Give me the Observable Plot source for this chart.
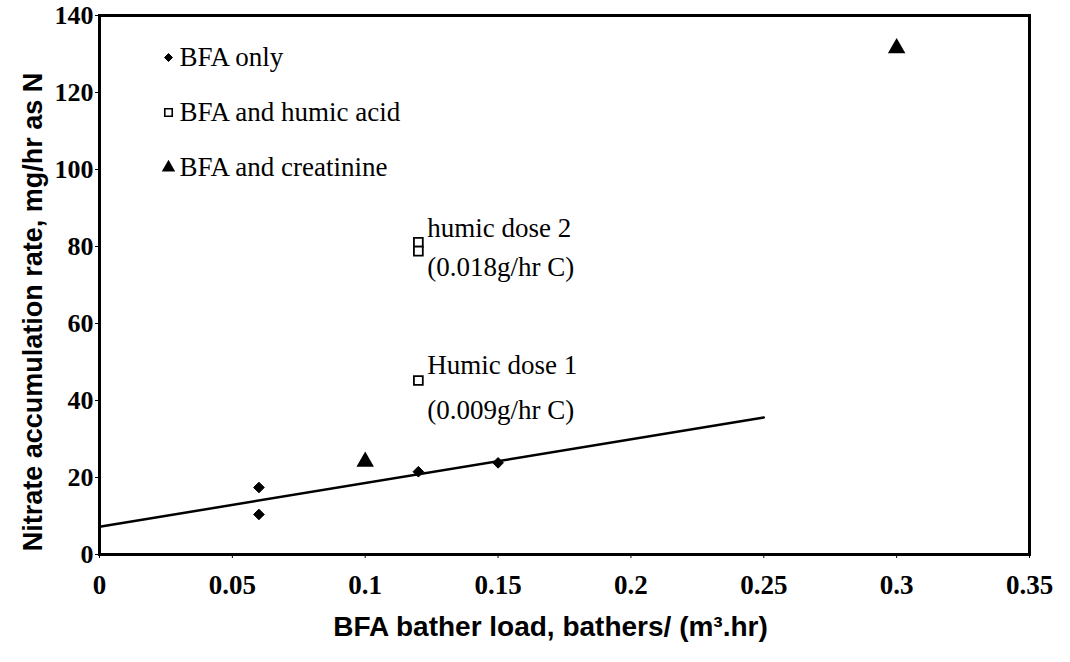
<!DOCTYPE html>
<html><head><meta charset="utf-8">
<script src="https://cdn.jsdelivr.net/npm/d3@7"></script>
<script src="https://cdn.jsdelivr.net/npm/@observablehq/plot@0.6"></script>
<style>
body{margin:0;background:#fff;}
#chart{position:relative;width:1070px;height:662px;}
</style>
</head><body><div id="chart"></div>
<script>
// Data
const bfaOnlyX = [0.06, 0.06, 0.12, 0.15];
const bfaOnlyY = [17.4, 10.4, 21.5, 23.8];
const humicX = [0.12, 0.12, 0.12];
const humicY = [81.1, 78.8, 45.2];
const creatX = [0.10, 0.30];
const creatY = [24.1, 131.5];
const trendX = [0, 0.25];
const trendY = [7.2, 35.6];
const xTicks = [0, 0.05, 0.1, 0.15, 0.2, 0.25, 0.3, 0.35];
const yTicks = [0, 20, 40, 60, 80, 100, 120, 140];
const legendLabels = ["BFA only", "BFA and humic acid", "BFA and creatinine"];
const annotX = [0.12, 0.12];
const annotY = [81.1, 45.2];
const annotLine1 = ["humic dose 2", "Humic dose 1"];
const annotLine2 = ["(0.018g/hr C)", "(0.009g/hr C)"];
const xTitle = "BFA bather load, bathers/ (m³.hr)";
const yTitle = "Nitrate accumulation rate, mg/hr as N";

const bfa = bfaOnlyX.map((x, i) => ({x, y: bfaOnlyY[i]}));
const humic = humicX.map((x, i) => ({x, y: humicY[i]}));
const creat = creatX.map((x, i) => ({x, y: creatY[i]}));
const trend = trendX.map((x, i) => ({x, y: trendY[i]}));

const serif = "'Liberation Serif', 'Times New Roman', serif";
const sans = "'Liberation Sans', Arial, sans-serif";

// annotation offsets (style)
const annotDy = [[-14, 25], [-15, 30]];
const annotMarks = annotX.flatMap((x, i) => [
  Plot.text([{x, y: annotY[i], t: annotLine1[i]}], {x: "x", y: "y", text: "t", dx: 9, dy: annotDy[i][0], textAnchor: "start", fontSize: 27, fontFamily: serif}),
  Plot.text([{x, y: annotY[i], t: annotLine2[i]}], {x: "x", y: "y", text: "t", dx: 9, dy: annotDy[i][1], textAnchor: "start", fontSize: 27, fontFamily: serif})
]);

// legend (inside the frame, top-left)
const legendSym = [
  {symbol: "diamond2", fill: "#000", stroke: "#000", r: 3.6, strokeWidth: 1},
  {symbol: "square", fill: "#fff", stroke: "#000", r: 4.2, strokeWidth: 1.6},
  {symbol: "triangle", fill: "#000", stroke: "none", r: 5}
];
const legendMarks = legendLabels.flatMap((lab, i) => [
  Plot.dot([lab], {frameAnchor: "top-left", dx: 69, dy: 42 + i * 55, ...legendSym[i]}),
  Plot.text([lab], {frameAnchor: "top-left", dx: 80, dy: 42 + i * 55, text: d => d, textAnchor: "start", lineAnchor: "middle", fontSize: 27, fontFamily: serif})
]);

const plot = Plot.plot({
  width: 1070, height: 662,
  marginLeft: 99, marginRight: 41, marginTop: 15, marginBottom: 108,
  style: {fontFamily: serif, fontSize: "26px", background: "#fff", color: "#000"},
  x: {domain: [0, 0.35]},
  y: {domain: [0, 140]},
  marks: [
    Plot.frame({stroke: "#000", strokeWidth: 3}),
    Plot.axisX({ticks: xTicks, tickSize: 4, tickPadding: 16, tickFormat: d => d === 0 ? "0" : String(+d.toFixed(2)),
      fontSize: 27, fontWeight: "bold", label: null}),
    Plot.axisY({ticks: yTicks, tickSize: 4, tickPadding: 2, fontSize: 26, fontWeight: "bold", label: null}),
    Plot.line(trend, {x: "x", y: "y", stroke: "#000", strokeWidth: 2.5}),
    Plot.dot(bfa, {x: "x", y: "y", symbol: "diamond2", fill: "#000", stroke: "#000", strokeWidth: 1, r: 4.8}),
    Plot.dot(humic, {x: "x", y: "y", symbol: "square", fill: "#fff", stroke: "#000", strokeWidth: 1.8, r: 5}),
    Plot.dot(creat, {x: "x", y: "y", symbol: "triangle", fill: "#000", r: 6.5}),
    ...annotMarks,
    ...legendMarks,
    Plot.text([xTitle], {frameAnchor: "bottom", dx: -14, dy: 73, lineAnchor: "middle", text: d => d, fontSize: 28, fontWeight: "bold", fontFamily: sans}),
    Plot.text([yTitle], {frameAnchor: "left", dx: -66, dy: 27, rotate: -90, textAnchor: "middle", lineAnchor: "middle", text: d => d, fontSize: 27, fontWeight: "bold", fontFamily: sans})
  ]
});

document.getElementById("chart").appendChild(plot);
</script>
</body></html>
